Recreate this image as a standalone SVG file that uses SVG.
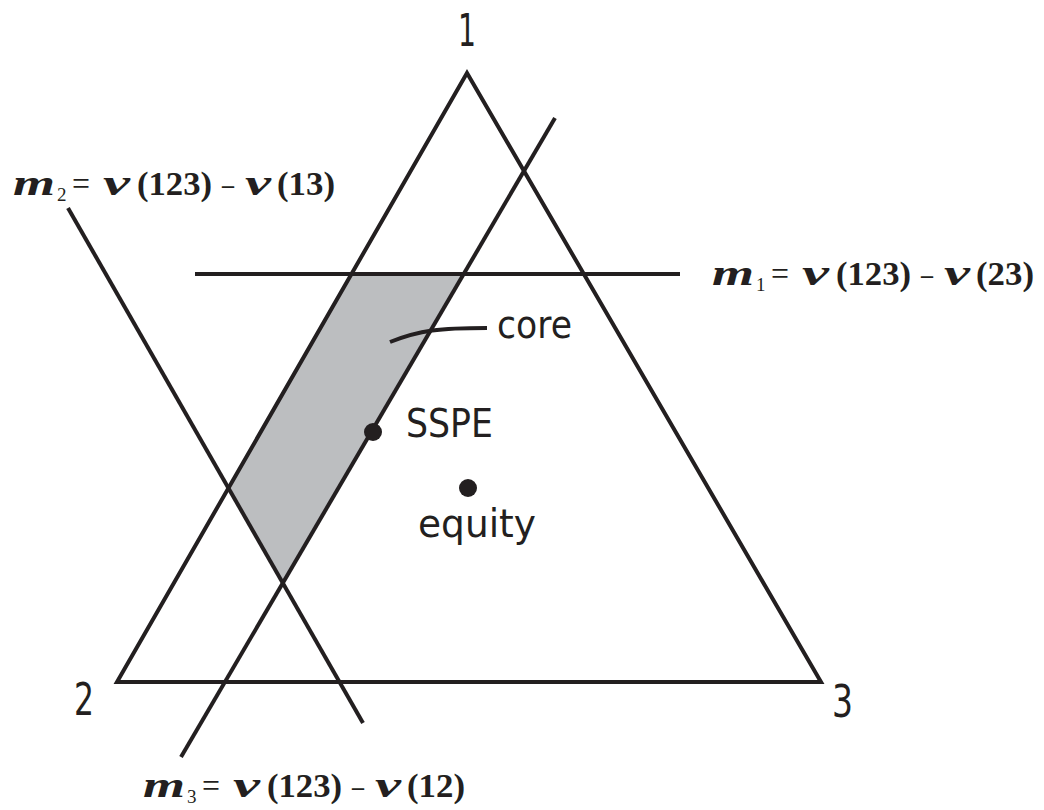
<svg xmlns="http://www.w3.org/2000/svg" width="1044" height="810" viewBox="0 0 1044 810">
<style>
.ln{stroke:#231f20;stroke-width:4;fill:none;stroke-linecap:butt}
.lbl{font-family:"DejaVu Sans","Liberation Sans",sans-serif;font-size:39px;fill:#231f20}
.num{font-family:"DejaVu Sans","Liberation Sans",sans-serif;font-size:45px;fill:#231f20}
.math{font-family:"Liberation Serif","DejaVu Serif",serif;font-size:34px;fill:#231f20;font-weight:bold}
.it{font-style:italic;font-size:36px}
.nb{font-weight:normal}
.sub{font-weight:normal;font-size:19px}
</style>
<g id="core-region">
<polygon points="352,274 463,274 283,583 228,488" fill="#bcbec0"/>
</g>
<g id="connectors">
<polygon class="ln" points="467,73 117,682 821,682" stroke-linejoin="miter"/>
<line class="ln" x1="195" y1="274" x2="680" y2="274"/>
<line class="ln" x1="555" y1="118" x2="181" y2="757"/>
<line class="ln" x1="68" y1="208" x2="363" y2="723"/>
<path class="ln" d="M390,342 C420,330 440,328 487,328"/>
</g>
<g id="vertex-1"><text class="num" x="458" y="46" textLength="18" lengthAdjust="spacingAndGlyphs">1</text></g>
<g id="vertex-2"><text class="num" x="74" y="715" textLength="20" lengthAdjust="spacingAndGlyphs">2</text></g>
<g id="vertex-3"><text class="num" x="832" y="717" textLength="21" lengthAdjust="spacingAndGlyphs">3</text></g>
<g id="sspe">
<circle cx="373" cy="432" r="9" fill="#231f20"/>
<text class="lbl" x="406" y="437" textLength="87" lengthAdjust="spacingAndGlyphs">SSPE</text>
</g>
<g id="equity">
<circle cx="468" cy="488" r="9" fill="#231f20"/>
<text class="lbl" x="418" y="537" textLength="118" lengthAdjust="spacingAndGlyphs">equity</text>
</g>
<g id="core"><text class="lbl" x="497" y="338" textLength="75" lengthAdjust="spacingAndGlyphs">core</text></g>
<g id="label-m2" class="math" transform="translate(13,195)">
<text class="it" x="0" y="0" textLength="42" lengthAdjust="spacingAndGlyphs">m</text>
<text class="sub" x="44" y="6">2</text>
<text class="nb" x="59" y="0" textLength="18" lengthAdjust="spacingAndGlyphs">=</text>
<text class="it" x="90" y="0" textLength="27" lengthAdjust="spacingAndGlyphs">v</text>
<text x="124" y="0" textLength="75" lengthAdjust="spacingAndGlyphs">(123)</text>
<text class="nb" x="209" y="0" textLength="12" lengthAdjust="spacingAndGlyphs">–</text>
<text class="it" x="232" y="0" textLength="26" lengthAdjust="spacingAndGlyphs">v</text>
<text x="264" y="0" textLength="58" lengthAdjust="spacingAndGlyphs">(13)</text>
</g>
<g id="label-m1" class="math" transform="translate(712,285)">
<text class="it" x="0" y="0" textLength="42" lengthAdjust="spacingAndGlyphs">m</text>
<text class="sub" x="44" y="6">1</text>
<text class="nb" x="59" y="0" textLength="18" lengthAdjust="spacingAndGlyphs">=</text>
<text class="it" x="90" y="0" textLength="27" lengthAdjust="spacingAndGlyphs">v</text>
<text x="124" y="0" textLength="75" lengthAdjust="spacingAndGlyphs">(123)</text>
<text class="nb" x="209" y="0" textLength="12" lengthAdjust="spacingAndGlyphs">–</text>
<text class="it" x="232" y="0" textLength="26" lengthAdjust="spacingAndGlyphs">v</text>
<text x="264" y="0" textLength="58" lengthAdjust="spacingAndGlyphs">(23)</text>
</g>
<g id="label-m3" class="math" transform="translate(143,797)">
<text class="it" x="0" y="0" textLength="42" lengthAdjust="spacingAndGlyphs">m</text>
<text class="sub" x="44" y="6">3</text>
<text class="nb" x="59" y="0" textLength="18" lengthAdjust="spacingAndGlyphs">=</text>
<text class="it" x="90" y="0" textLength="27" lengthAdjust="spacingAndGlyphs">v</text>
<text x="124" y="0" textLength="75" lengthAdjust="spacingAndGlyphs">(123)</text>
<text class="nb" x="209" y="0" textLength="12" lengthAdjust="spacingAndGlyphs">–</text>
<text class="it" x="232" y="0" textLength="26" lengthAdjust="spacingAndGlyphs">v</text>
<text x="264" y="0" textLength="58" lengthAdjust="spacingAndGlyphs">(12)</text>
</g>
</svg>
